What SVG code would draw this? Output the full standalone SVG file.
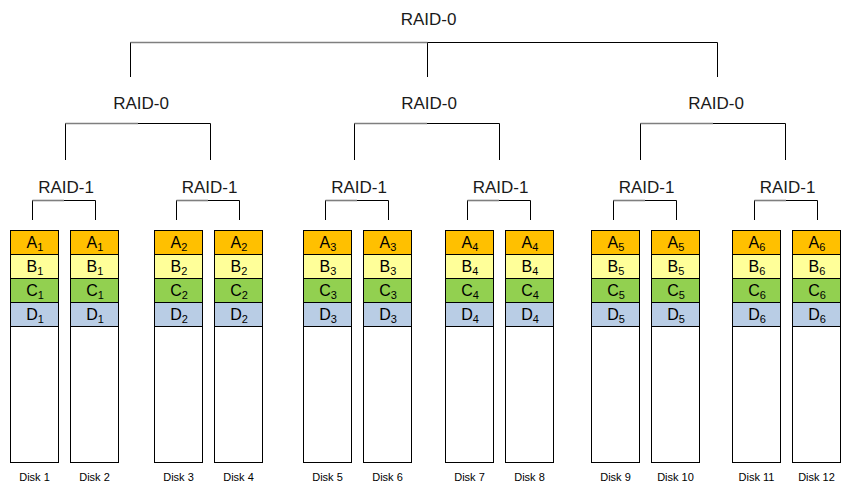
<svg xmlns="http://www.w3.org/2000/svg" width="852" height="498" viewBox="0 0 852 498">
<style>
.lbl{font-family:"Liberation Sans",Arial,sans-serif;font-size:17px;fill:#1a1a1a;text-anchor:middle}
.cell{font-family:"Liberation Sans",Arial,sans-serif;font-size:16px;fill:#000;text-anchor:middle}
.sub{font-size:11px}
.dl{font-family:"Liberation Sans",Arial,sans-serif;font-size:11px;fill:#000;text-anchor:middle}
.box{fill:#fff;stroke:#000;stroke-width:1}
.a{fill:#FFC000;stroke:#000;stroke-width:1}
.b{fill:#FFFF99;stroke:#000;stroke-width:1}
.c{fill:#92D050;stroke:#000;stroke-width:1}
.d{fill:#B9CDE5;stroke:#000;stroke-width:1}
.ln{fill:none;stroke:#000;stroke-width:1}
.gl{fill:none;stroke:#7f7f7f;stroke-width:1.6}
</style>
<defs>
<g id="disk">
<rect class="box" x="0" y="0" width="48" height="232"/>
<rect class="a" x="0" y="0" width="48" height="24"/>
<rect class="b" x="0" y="24" width="48" height="24"/>
<rect class="c" x="0" y="48" width="48" height="24"/>
<rect class="d" x="0" y="72" width="48" height="24"/>
</g>
</defs>
<g id="connectors">
<!-- top RAID-0 -->
<path class="ln" d="M130.5 77V42.5H717.5V77M427.5 42.5V77"/>
<path class="gl" d="M130.5 42.5H427.5"/>
<!-- middle RAID-0 -->
<path class="ln" d="M65.5 160V123.5H210.5V160"/>
<path class="gl" d="M65.5 123.5H138"/>
<path class="ln" d="M354.5 160V123.5H499.5V160"/>
<path class="gl" d="M354.5 123.5H427"/>
<path class="ln" d="M640.5 160V123.5H785.5V160"/>
<path class="gl" d="M640.5 123.5H713"/>
<!-- RAID-1 -->
<path class="ln" d="M32.5 220V200.5H95.5V220"/>
<path class="gl" d="M32.5 200.5H64"/>
<path class="ln" d="M176.5 220V200.5H239.5V220"/>
<path class="gl" d="M176.5 200.5H208"/>
<path class="ln" d="M325.5 220V200.5H388.5V220"/>
<path class="gl" d="M325.5 200.5H357"/>
<path class="ln" d="M467.5 220V200.5H530.5V220"/>
<path class="gl" d="M467.5 200.5H499"/>
<path class="ln" d="M613.5 220V200.5H676.5V220"/>
<path class="gl" d="M613.5 200.5H645"/>
<path class="ln" d="M754.5 220V200.5H817.5V220"/>
<path class="gl" d="M754.5 200.5H786"/>
</g>
<g id="raid0-top"><text class="lbl" x="428.5" y="25">RAID-0</text></g>
<g id="raid0-a"><text class="lbl" x="141" y="109">RAID-0</text></g>
<g id="raid0-b"><text class="lbl" x="429" y="109">RAID-0</text></g>
<g id="raid0-c"><text class="lbl" x="716" y="109">RAID-0</text></g>
<g id="raid1-1"><text class="lbl" x="66" y="193">RAID-1</text></g>
<g id="raid1-2"><text class="lbl" x="209.5" y="193">RAID-1</text></g>
<g id="raid1-3"><text class="lbl" x="359" y="193">RAID-1</text></g>
<g id="raid1-4"><text class="lbl" x="500.5" y="193">RAID-1</text></g>
<g id="raid1-5"><text class="lbl" x="646.5" y="193">RAID-1</text></g>
<g id="raid1-6"><text class="lbl" x="787.5" y="193">RAID-1</text></g>

<g id="disk1"><use href="#disk" x="10.5" y="230.5"/>
<text class="cell" x="35" y="247.5">A<tspan class="sub" dy="3">1</tspan></text>
<text class="cell" x="35" y="271.5">B<tspan class="sub" dy="3">1</tspan></text>
<text class="cell" x="35" y="295.5">C<tspan class="sub" dy="3">1</tspan></text>
<text class="cell" x="35" y="319.5">D<tspan class="sub" dy="3">1</tspan></text>
<text class="dl" x="34.5" y="480.5">Disk 1</text></g>
<g id="disk2"><use href="#disk" x="70.5" y="230.5"/>
<text class="cell" x="95" y="247.5">A<tspan class="sub" dy="3">1</tspan></text>
<text class="cell" x="95" y="271.5">B<tspan class="sub" dy="3">1</tspan></text>
<text class="cell" x="95" y="295.5">C<tspan class="sub" dy="3">1</tspan></text>
<text class="cell" x="95" y="319.5">D<tspan class="sub" dy="3">1</tspan></text>
<text class="dl" x="94.5" y="480.5">Disk 2</text></g>
<g id="disk3"><use href="#disk" x="154.5" y="230.5"/>
<text class="cell" x="179" y="247.5">A<tspan class="sub" dy="3">2</tspan></text>
<text class="cell" x="179" y="271.5">B<tspan class="sub" dy="3">2</tspan></text>
<text class="cell" x="179" y="295.5">C<tspan class="sub" dy="3">2</tspan></text>
<text class="cell" x="179" y="319.5">D<tspan class="sub" dy="3">2</tspan></text>
<text class="dl" x="178.5" y="480.5">Disk 3</text></g>
<g id="disk4"><use href="#disk" x="214.5" y="230.5"/>
<text class="cell" x="239" y="247.5">A<tspan class="sub" dy="3">2</tspan></text>
<text class="cell" x="239" y="271.5">B<tspan class="sub" dy="3">2</tspan></text>
<text class="cell" x="239" y="295.5">C<tspan class="sub" dy="3">2</tspan></text>
<text class="cell" x="239" y="319.5">D<tspan class="sub" dy="3">2</tspan></text>
<text class="dl" x="238.5" y="480.5">Disk 4</text></g>
<g id="disk5"><use href="#disk" x="303.5" y="230.5"/>
<text class="cell" x="328" y="247.5">A<tspan class="sub" dy="3">3</tspan></text>
<text class="cell" x="328" y="271.5">B<tspan class="sub" dy="3">3</tspan></text>
<text class="cell" x="328" y="295.5">C<tspan class="sub" dy="3">3</tspan></text>
<text class="cell" x="328" y="319.5">D<tspan class="sub" dy="3">3</tspan></text>
<text class="dl" x="327.5" y="480.5">Disk 5</text></g>
<g id="disk6"><use href="#disk" x="363.5" y="230.5"/>
<text class="cell" x="388" y="247.5">A<tspan class="sub" dy="3">3</tspan></text>
<text class="cell" x="388" y="271.5">B<tspan class="sub" dy="3">3</tspan></text>
<text class="cell" x="388" y="295.5">C<tspan class="sub" dy="3">3</tspan></text>
<text class="cell" x="388" y="319.5">D<tspan class="sub" dy="3">3</tspan></text>
<text class="dl" x="387.5" y="480.5">Disk 6</text></g>
<g id="disk7"><use href="#disk" x="445.5" y="230.5"/>
<text class="cell" x="470" y="247.5">A<tspan class="sub" dy="3">4</tspan></text>
<text class="cell" x="470" y="271.5">B<tspan class="sub" dy="3">4</tspan></text>
<text class="cell" x="470" y="295.5">C<tspan class="sub" dy="3">4</tspan></text>
<text class="cell" x="470" y="319.5">D<tspan class="sub" dy="3">4</tspan></text>
<text class="dl" x="469.5" y="480.5">Disk 7</text></g>
<g id="disk8"><use href="#disk" x="505.5" y="230.5"/>
<text class="cell" x="530" y="247.5">A<tspan class="sub" dy="3">4</tspan></text>
<text class="cell" x="530" y="271.5">B<tspan class="sub" dy="3">4</tspan></text>
<text class="cell" x="530" y="295.5">C<tspan class="sub" dy="3">4</tspan></text>
<text class="cell" x="530" y="319.5">D<tspan class="sub" dy="3">4</tspan></text>
<text class="dl" x="529.5" y="480.5">Disk 8</text></g>
<g id="disk9"><use href="#disk" x="591.5" y="230.5"/>
<text class="cell" x="616" y="247.5">A<tspan class="sub" dy="3">5</tspan></text>
<text class="cell" x="616" y="271.5">B<tspan class="sub" dy="3">5</tspan></text>
<text class="cell" x="616" y="295.5">C<tspan class="sub" dy="3">5</tspan></text>
<text class="cell" x="616" y="319.5">D<tspan class="sub" dy="3">5</tspan></text>
<text class="dl" x="615.5" y="480.5">Disk 9</text></g>
<g id="disk10"><use href="#disk" x="651.5" y="230.5"/>
<text class="cell" x="676" y="247.5">A<tspan class="sub" dy="3">5</tspan></text>
<text class="cell" x="676" y="271.5">B<tspan class="sub" dy="3">5</tspan></text>
<text class="cell" x="676" y="295.5">C<tspan class="sub" dy="3">5</tspan></text>
<text class="cell" x="676" y="319.5">D<tspan class="sub" dy="3">5</tspan></text>
<text class="dl" x="675.5" y="480.5">Disk 10</text></g>
<g id="disk11"><use href="#disk" x="732.5" y="230.5"/>
<text class="cell" x="757" y="247.5">A<tspan class="sub" dy="3">6</tspan></text>
<text class="cell" x="757" y="271.5">B<tspan class="sub" dy="3">6</tspan></text>
<text class="cell" x="757" y="295.5">C<tspan class="sub" dy="3">6</tspan></text>
<text class="cell" x="757" y="319.5">D<tspan class="sub" dy="3">6</tspan></text>
<text class="dl" x="756.5" y="480.5">Disk 11</text></g>
<g id="disk12"><use href="#disk" x="792.5" y="230.5"/>
<text class="cell" x="817" y="247.5">A<tspan class="sub" dy="3">6</tspan></text>
<text class="cell" x="817" y="271.5">B<tspan class="sub" dy="3">6</tspan></text>
<text class="cell" x="817" y="295.5">C<tspan class="sub" dy="3">6</tspan></text>
<text class="cell" x="817" y="319.5">D<tspan class="sub" dy="3">6</tspan></text>
<text class="dl" x="816.5" y="480.5">Disk 12</text></g>
</svg>
